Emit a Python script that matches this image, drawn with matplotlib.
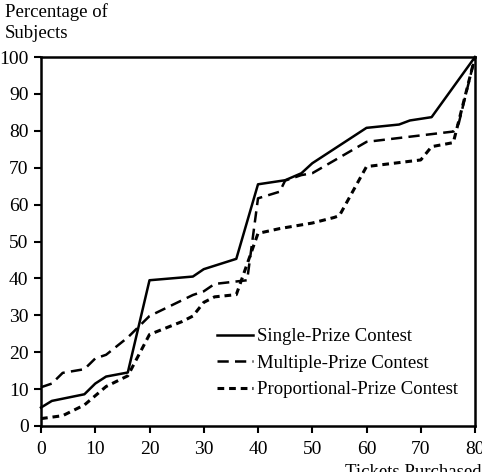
import matplotlib.pyplot as plt

plt.rcParams['font.family'] = ['Liberation Serif', 'DejaVu Serif']

# Single-Prize Contest (solid)
single_x = [0, 2, 8, 10, 12, 16, 20, 28, 30, 36, 40, 45, 48, 50, 60, 66, 68, 72, 80]
single_y = [5, 6.8, 8.6, 11.5, 13.4, 14.5, 39.5, 40.5, 42.5, 45.3, 65.5, 66.6, 68.5, 71.2, 80.8, 81.7, 82.8, 83.7, 100]

# Multiple-Prize Contest (long dashes)
multi_x = [0, 2, 4, 8, 10, 12, 16, 20, 28, 30, 32, 38, 40, 44, 45, 48, 50, 60, 76, 77, 80]
multi_y = [10.5, 11.5, 14.4, 15.4, 18.3, 19.3, 24, 29.8, 35.5, 36.5, 38.5, 39.5, 61.7, 63.5, 66.5, 68, 68.5, 77, 79.8, 82, 100]

# Proportional-Prize Contest (short dashes)
prop_x = [0, 4, 8, 10, 12, 16, 20, 26, 28, 30, 32, 36, 40, 44, 50, 54, 55, 60, 70, 72, 76, 80]
prop_y = [2, 2.8, 5.7, 8.2, 10.7, 13.6, 24.8, 28.3, 29.8, 33.5, 35, 35.6, 52.2, 53.5, 55, 56.5, 57, 70.3, 72.1, 75.7, 76.8, 100]

xticks = [0, 10, 20, 30, 40, 50, 60, 70, 80]
yticks = [0, 10, 20, 30, 40, 50, 60, 70, 80, 90, 100]

fig = plt.figure(figsize=(4.82, 4.72), dpi=100)
ax = fig.add_axes([41 / 482, 1 - 426 / 472, 434 / 482, 369 / 472])

ax.plot(single_x, single_y, color='black', lw=1.8, label='Single-Prize Contest', clip_on=False)
ax.plot(multi_x, multi_y, color='black', lw=1.8, dashes=(4.5, 2.5), label='Multiple-Prize Contest', clip_on=False)
ax.plot(prop_x, prop_y, color='black', lw=2.2, dashes=(2.2, 1.6), label='Proportional-Prize Contest', clip_on=False)

ax.set_xlim(0, 80)
ax.set_ylim(0, 100)
ax.set_xticks(xticks)
ax.set_yticks(yticks)
ax.tick_params(direction='out', length=5, width=1.5, labelsize=14, pad=4)
ax.tick_params(axis='x', pad=6)
for s in ax.spines.values():
    s.set_linewidth(1.8)

ax.legend(loc='lower left', bbox_to_anchor=((217 - 41) / 434, 0.075), frameon=False, fontsize=13.5,
          handlelength=1.9, handletextpad=0.25, labelspacing=0.5, borderaxespad=0, borderpad=0)

fig.text(5 / 482, 1 - 3 / 472, 'Percentage of\nSubjects', ha='left', va='top', fontsize=13.5, linespacing=1.3)
fig.text(345 / 482, 1 - 464 / 472, 'Tickets Purchased', ha='left', va='top', fontsize=13.5)

fig.savefig('out.png', dpi=100)
